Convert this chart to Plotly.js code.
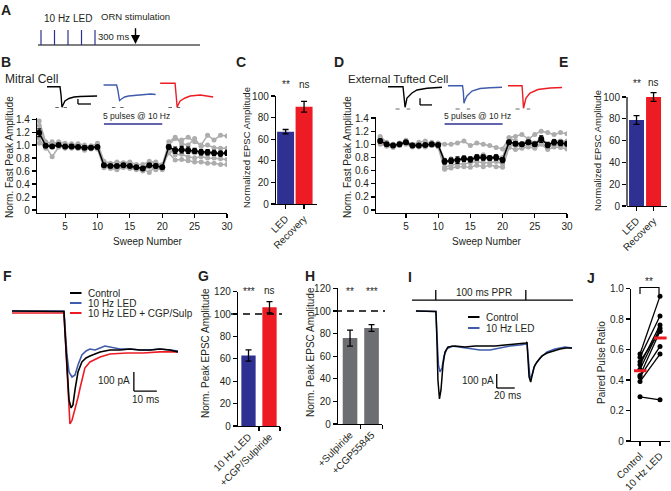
<!DOCTYPE html>
<html><head><meta charset="utf-8">
<script src="https://cdn.plot.ly/plotly-3.0.1.min.js"></script>
<style>html,body{margin:0;padding:0;background:#fff;}#chart{width:671px;height:491px;}</style>
</head><body><div id="chart"></div>
<script>
// ================= DATA =================
// A: protocol (ms)
const ledPulseTimes = [0, 100, 200, 300, 400];
const ornStimTime = 700;

// B: mitral cells, normalized fast peak amplitude per sweep
const sweeps = [1,2,3,4,5,6,7,8,9,10,11,12,13,14,15,16,17,18,19,20,21,22,23,24,25,26,27,28,29,30];
const mitralMean = [1.19,0.99,0.98,1.0,0.98,0.98,0.97,0.96,0.96,0.97,0.69,0.68,0.68,0.69,0.68,0.66,0.64,0.69,0.68,0.66,0.97,0.92,0.93,0.92,0.91,0.89,0.89,0.88,0.87,0.88];
const mitralSEM  = [0.06,0.02,0.03,0.02,0.02,0.02,0.02,0.02,0.02,0.02,0.02,0.02,0.02,0.02,0.02,0.02,0.02,0.02,0.03,0.02,0.03,0.05,0.05,0.05,0.04,0.04,0.04,0.04,0.04,0.04];
const mitralCell1 = [1.37,1.05,1.02,1.05,1.03,1.0,1.02,1.0,0.98,1.03,0.75,0.72,0.74,0.73,0.74,0.7,0.7,0.75,0.72,0.7,1.0,1.1,1.08,1.12,1.05,1.0,1.15,1.08,1.15,1.14];
const mitralCell2 = [1.3,1.0,0.98,1.02,0.96,1.02,0.98,0.98,0.99,0.98,0.7,0.7,0.68,0.72,0.7,0.66,0.65,0.72,0.74,0.65,1.05,1.12,1.02,1.0,1.1,0.98,1.0,0.96,0.95,0.95];
const mitralCell3 = [1.2,0.98,0.82,0.97,1.0,0.95,0.95,0.95,0.94,0.96,0.67,0.66,0.7,0.66,0.65,0.64,0.6,0.68,0.62,0.64,0.95,0.9,0.92,0.9,0.88,0.88,0.86,0.88,0.86,0.88];
const mitralCell4 = [1.1,0.95,1.05,0.98,0.96,0.97,0.96,0.92,0.95,0.94,0.65,0.66,0.64,0.66,0.64,0.62,0.62,0.66,0.66,0.62,0.93,0.85,0.86,0.82,0.8,0.82,0.8,0.8,0.79,0.78];
const mitralCell5 = [1.03,0.98,1.0,1.0,0.95,0.97,0.95,0.96,0.95,0.95,0.68,0.64,0.62,0.66,0.65,0.66,0.63,0.58,0.67,0.68,0.88,0.77,0.78,0.76,0.74,0.74,0.72,0.72,0.7,0.7];
const ledSweeps = [11, 20];

// B inset traces (ms, pA)
const mitralCtrlT = [0,10,10.8,11.5,12.3,13.8,16.9,20.8,25.4,33.1,38.5];
const mitralCtrlI = [0,0,-332,-824,-732,-572,-472,-412,-392,-372,-372];
const mitralLedT  = [0,10,10.8,11.5,12.3,13.8,16.2,19.2,24.6,30,36.2,40];
const mitralLedI  = [68,68,-92,-372,-552,-492,-412,-372,-352,-332,-292,-312];
const mitralRecT  = [0,11.5,12.3,13.1,13.8,15.4,19.2,23.1,30.8,34.6,38.5,40.8];
const mitralRecI  = [136,136,-332,-824,-732,-572,-452,-372,-332,-372,-412,-412];

// C
const cCats = ['LED', 'Recovery'];
const cVals = [67, 90];
const cErr  = [2, 5];
const cSig  = ['**', 'ns'];

// D: external tufted cells
const etcMean = [1.05,1.0,0.98,1.0,1.03,0.98,0.98,0.99,1.0,0.99,0.74,0.75,0.76,0.78,0.77,0.8,0.8,0.79,0.8,0.76,1.03,1.01,1.0,1.03,1.0,1.08,0.99,1.03,1.02,1.01];
const etcSEM  = [0.03,0.02,0.02,0.02,0.02,0.02,0.02,0.02,0.02,0.02,0.04,0.04,0.05,0.04,0.04,0.04,0.04,0.03,0.04,0.04,0.03,0.03,0.03,0.03,0.03,0.05,0.04,0.04,0.04,0.03];
const etcCell1 = [1.08,1.02,1.0,0.98,1.05,1.0,1.03,1.05,1.0,1.02,1.0,1.0,1.02,1.05,0.98,1.02,1.0,0.98,0.95,0.93,1.1,1.12,1.15,1.08,1.15,1.2,1.18,1.15,1.18,1.16];
const etcCell2 = [1.1,1.0,0.97,1.02,1.04,0.98,0.97,1.0,1.03,1.0,0.72,0.78,0.76,0.8,0.78,0.82,0.84,0.8,0.82,0.8,1.1,1.05,1.0,1.08,1.02,1.1,1.0,1.05,1.05,1.05];
const etcCell3 = [1.02,0.98,1.0,1.0,1.0,0.96,0.98,0.96,0.98,0.97,0.65,0.68,0.7,0.7,0.72,0.74,0.72,0.72,0.74,0.7,0.98,0.98,0.96,1.0,0.96,1.02,0.95,1.0,0.98,0.97];
const etcCell4 = [1.0,0.97,0.95,0.98,1.02,0.97,0.96,0.97,0.98,0.96,0.62,0.64,0.66,0.66,0.65,0.68,0.66,0.68,0.66,0.65,0.95,0.92,0.94,0.96,0.94,1.0,0.92,0.96,0.95,0.93];
const etcCell5 = [1.12,1.03,0.99,1.0,1.06,0.99,1.0,1.0,1.02,1.01,0.76,0.72,0.75,0.78,0.76,0.8,0.78,0.78,0.8,0.74,1.05,1.0,0.98,1.04,0.98,1.1,0.98,1.02,1.0,1.0];

// D inset traces (ms, pA)
const etcCtrlT = [0,12.5,13.3,14.2,15,15.8,20,24.2,32.5,45];
const etcCtrlI = [12,12,-360,-812,-640,-440,-240,-120,-52,-12];
const etcLedT  = [0,12.1,12.8,13.3,14.2,15.8,20,26.7,35,45];
const etcLedI  = [52,52,-200,-652,-520,-360,-160,-60,-28,-12];
const etcRecT  = [0,11.7,12.25,12.9,13.75,15,18.3,25,35,45];
const etcRecI  = [52,52,-320,-852,-680,-440,-240,-100,-40,-20];

// E
const eCats = ['LED', 'Recovery'];
const eVals = [79, 100];
const eErr  = [4, 4];
const eSig  = ['**', 'ns'];

// F: EPSC traces (ms, pA)
const fCtrlT = [0,12.2,22.6,23.0,23.9,24.8,25.7,26.5,27.4,28.7,30.4,32.2,33.9,36.1,38.3,42.6,47,51.3,55.7,60,64.3,68.7,72.2];
const fCtrlI = [5,5,3,-95,-305,-463,-505,-489,-410,-316,-263,-242,-232,-221,-210,-200,-200,-195,-200,-200,-195,-200,-210];
const fLedT  = [0,22.6,23.0,23.9,24.8,26.1,27.4,28.7,30.4,32.2,33.9,36.1,38.3,40.4,42.6,47,51.3,55.7,60,64.3,68.7,72.2];
const fLedI  = [5,5,-68,-226,-316,-342,-331,-279,-226,-205,-195,-200,-189,-179,-184,-195,-195,-200,-200,-195,-200,-205];
const fDrugT = [0,22.6,23.0,23.9,24.8,25.2,26.1,27.0,28.7,29.6,31.7,33.9,38.3,42.6,50,57,64.3,72.2];
const fDrugI = [-5,-5,-95,-330,-520,-589,-570,-531,-450,-400,-295,-263,-237,-221,-216,-216,-210,-210];
const fNames = ['Control', '10 Hz LED', '10 Hz LED + CGP/Sulp'];

// G
const gCats = ['10 Hz LED', '+CGP/Sulpiride'];
const gVals = [63, 106];
const gErr  = [5, 5];
const gSig  = ['***', 'ns'];

// H
const hCats = ['+Sulpiride', '+CGP55845'];
const hVals = [76, 85];
const hErr  = [7, 3];
const hSig  = ['**', '***'];

// I: paired pulse traces (ms, pA)
const iStim = [22, 122];
const iCtrlT = [0,22.2,23.3,24.4,26.1,27.8,30,32.2,35.6,43.3,54.4,65.6,76.7,87.8,98.9,110,117.8,122.2,123.3,124.4,125.6,127.4,128.9,131.1,134.4,140,145.6,152.2,160,166.7,173.3];
const iCtrlI = [0,-4,-207,-493,-628,-564,-385,-293,-257,-250,-257,-250,-250,-250,-243,-236,-228,-228,-221,-350,-470,-507,-470,-400,-364,-321,-300,-286,-271,-264,-264];
const iLedT  = [0,22.2,23.3,25,26.7,28.9,31.1,34.4,40,48.9,60,71.1,82.2,93.3,104.4,115.6,122.2,123.3,124.4,126.7,128.9,132.2,137.8,145.6,154.4,165.6,173.3];
const iLedI  = [0,-4,-171,-385,-435,-407,-321,-271,-250,-257,-271,-278,-278,-264,-250,-243,-236,-228,-336,-485,-457,-385,-336,-293,-271,-257,-264];
const iNames = ['Control', '10 Hz LED'];

// J: paired pulse ratio
const jCats = ['Control', '10 Hz LED'];
const pprCtrl = [0.29,0.39,0.42,0.43,0.47,0.50,0.52,0.55,0.57];
const pprLed  = [0.27,0.57,0.62,0.72,0.74,0.76,0.72,0.82,0.95];
const pprMean = [0.46, 0.675];

// ================= STYLE / LAYOUT =================
const FONT = 'Liberation Sans, Arial, Helvetica, sans-serif';
const TXT = '#231f20';
const BLUE_BAR = '#2e3192', RED = '#ed1c24', BLUE_TR = '#3f5bab', GREY_PT = '#adadad', GREY_BAR = '#6d6e71';
const W = 671, H = 491;
const px = p => p / W, py = p => 1 - p / H;
const dX = (a, b) => [a / W, b / W];
const dY = (top, bottom) => [1 - bottom / H, 1 - top / H];

function axis(o) {
  return Object.assign({showgrid:false, zeroline:false, showline:true, linecolor:'#000', linewidth:1.2,
    ticks:'outside', ticklen:4, tickwidth:1.2, tickcolor:'#000',
    tickfont:{size:10, color:TXT, family:FONT}, fixedrange:true}, o);
}
function hid(o) { return Object.assign({visible:false, fixedrange:true, showgrid:false, zeroline:false}, o); }

const normTicks = [0,0.2,0.4,0.6,0.8,1.0,1.2,1.4];
const normText = ['0','0.2','0.4','0.6','0.8','1.0','1.2','1.4'];
const sweepTicks = [5,10,15,20,25,30];

const traces = [];
const shapes = [];
const annotations = [];
const F10 = {size:10, color:TXT, family:FONT};
const F95 = {size:9.5, color:TXT, family:FONT};

function ann(o) {
  annotations.push(Object.assign({showarrow:false, xanchor:'center', yanchor:'middle', font:F10}, o));
}
function txt(text, x, y, o) { ann(Object.assign({text, x, y, xref:'paper', yref:'paper'}, o)); }
function seg(xref, yref, x0, y0, x1, y1, color, width, dash) {
  shapes.push({type:'line', xref, yref, x0, y0, x1, y1, line:{color, width, dash: dash || 'solid'}});
}

// ---------- A ----------
traces.push({x:[-22.2, 1177.8], y:[0,0], xaxis:'x', yaxis:'y', mode:'lines', line:{color:'#000', width:1.2}, hoverinfo:'skip'});
{
  const xs = [], ys = [];
  ledPulseTimes.forEach(t => { xs.push(t, t, null); ys.push(0, 1, null); });
  traces.push({x:xs, y:ys, xaxis:'x', yaxis:'y', mode:'lines', line:{color:BLUE_BAR, width:1.2}, hoverinfo:'skip'});
}
annotations.push({x:ornStimTime, y:0.06, ax:ornStimTime, ay:1.22, xref:'x', yref:'y', axref:'x', ayref:'y',
  showarrow:true, arrowhead:2, arrowsize:1.3, arrowwidth:1.4, arrowcolor:'#000', text:''});
ann({text:'10 Hz LED', x:(ledPulseTimes[0]+ledPulseTimes[4])/2, y:py(18), xref:'x', yref:'paper'});
ann({text:'ORN stimulation', x:ornStimTime, y:py(17), xref:'x', yref:'paper', font:F95});
ann({text:'300 ms', x:(ledPulseTimes[4]+ornStimTime)/2 - 15, y:py(37), xref:'x', yref:'paper', font:F95});

// ---------- B / D scatter ----------
function sweepPanel(cells, mean, sem, xa, ya) {
  cells.forEach(c => traces.push({x:sweeps, y:c, xaxis:xa, yaxis:ya, mode:'lines+markers',
    line:{color:GREY_PT, width:1.5}, marker:{color:GREY_PT, size:5}, hoverinfo:'skip'}));
  traces.push({x:sweeps, y:mean, xaxis:xa, yaxis:ya, mode:'lines+markers',
    line:{color:'#000', width:1.5}, marker:{color:'#000', size:6},
    error_y:{type:'data', array:sem, color:'#000', thickness:1.1, width:2}, hoverinfo:'skip'});
}
sweepPanel([mitralCell1,mitralCell2,mitralCell3,mitralCell4,mitralCell5], mitralMean, mitralSEM, 'x2', 'y2');
sweepPanel([etcCell1,etcCell2,etcCell3,etcCell4,etcCell5], etcMean, etcSEM, 'x5', 'y5');

// inset traces
function insetTraces(list, gap, xa, ya, dashWins, dashY, scale) {
  const cols = ['#000', BLUE_TR, RED];
  list.forEach((tr, k) => {
    const off = k * gap;
    traces.push({x:tr[0].map(t => t + off), y:tr[1], xaxis:xa, yaxis:ya, mode:'lines',
      line:{color:cols[k], width:1.4}, hoverinfo:'skip'});
    dashWins.forEach(w => seg(xa, ya, w[0] + off, dashY, w[1] + off, dashY, '#666', 1));
  });
  seg(xa, ya, scale.t, scale.i, scale.t, scale.i - scale.pA, '#000', 1.3);
  seg(xa, ya, scale.t, scale.i - scale.pA, scale.t + scale.ms, scale.i - scale.pA, '#000', 1.3);
}
insetTraces([[mitralCtrlT,mitralCtrlI],[mitralLedT,mitralLedI],[mitralRecT,mitralRecI]], 43.5, 'x3', 'y3',
  [[6.4,9.1],[12.8,15.4]], -832, {t:23.8, i:-492, pA:200, ms:10});
insetTraces([[etcCtrlT,etcCtrlI],[etcLedT,etcLedI],[etcRecT,etcRecI]], 50, 'x6', 'y6',
  [[6.3,9.7],[15.6,18.5]], -880, {t:26.7, i:-452, pA:265, ms:10});

// LED bar under insets
['x2','x5'].forEach(xa => {
  seg(xa, 'paper', ledSweeps[0], py(124), ledSweeps[1], py(124), BLUE_BAR, 1.3);
  ann({text:'5 pulses @ 10 Hz', x:(ledSweeps[0]+ledSweeps[1])/2 + 0.6, y:py(116.5), xref:xa, yref:'paper',
    font:{size:8.5, color:TXT, family:FONT}});
});

// ---------- bar panels ----------
function barPanel(vals, err, colors, width, xa, ya) {
  traces.push({type:'bar', x:[0,1], y:vals, width:width, xaxis:xa, yaxis:ya,
    marker:{color:colors, line:{width:0}},
    error_y:{type:'data', array:err, color:'#000', thickness:1.3, width:3}, hoverinfo:'skip'});
}
barPanel(cVals, cErr, [BLUE_BAR, RED], 0.92, 'x4', 'y4');
barPanel(eVals, eErr, [BLUE_BAR, RED], 0.88, 'x7', 'y7');
barPanel(gVals, gErr, [BLUE_BAR, RED], 0.68, 'x9', 'y9');
barPanel(hVals, hErr, [GREY_BAR, GREY_BAR], 0.68, 'x10', 'y10');

function sig(labels, xa, yPx) {
  labels.forEach((s, k) => ann({text:s, x:k, y:py(yPx + (s === 'ns' ? 0 : 1)), xref:xa, yref:'paper'}));
}
sig(cSig, 'x4', 84);
sig(eSig, 'x7', 82);
sig(gSig, 'x9', 290);
sig(hSig, 'x10', 290);

// E axis line up to 100
shapes.push({type:'line', xref:'x7 domain', yref:'y7', x0:0, x1:0, y0:0, y1:100, line:{color:'#000', width:1.2}});
// dashed 100% lines
seg('paper', 'y9', px(231), 100, px(282), 100, '#000', 1.4, '7px,5px');
seg('paper', 'y10', px(335), 100, px(385), 100, '#000', 1.4, '7px,5px');

// ---------- F ----------
[[fLedT,fLedI,BLUE_TR],[fDrugT,fDrugI,RED],[fCtrlT,fCtrlI,'#000']].forEach(d =>
  traces.push({x:d[0], y:d[1], xaxis:'x8', yaxis:'y8', mode:'lines', line:{color:d[2], width:1.6}, hoverinfo:'skip'}));
seg('x8','y8', 53, -316, 53, -416, '#000', 1.3);
seg('x8','y8', 53, -416, 63, -416, '#000', 1.3);
ann({text:'100 pA', x:52.3, y:-362, xref:'x8', yref:'y8', xanchor:'right'});
ann({text:'10 ms', x:58, y:-460, xref:'x8', yref:'y8'});
[['#000',293],[BLUE_TR,303],[RED,313]].forEach((c, k) => {
  seg('paper','paper', px(70), py(c[1]), px(81.5), py(c[1]), c[0], 2);
  txt(fNames[k], px(86), py(c[1]), {xanchor:'left'});
});

// ---------- I ----------
traces.push({x:iLedT, y:iLedI, xaxis:'x11', yaxis:'y11', mode:'lines', line:{color:BLUE_TR, width:1.5}, hoverinfo:'skip'});
traces.push({x:iCtrlT, y:iCtrlI, xaxis:'x11', yaxis:'y11', mode:'lines', line:{color:'#000', width:1.5}, hoverinfo:'skip'});
seg('x11','y11', -4.4, 78, 174.4, 78, '#000', 1.3);
iStim.forEach(t => seg('x11','y11', t, 78, t, 150, '#000', 1.3));
ann({text:'100 ms PPR', x:(iStim[0]+iStim[1])/2 + 4, y:py(292), xref:'x11', yref:'paper'});
seg('x11','y11', 89.7, -450, 89.7, -550, '#000', 1.3);
seg('x11','y11', 89.7, -550, 109.7, -550, '#000', 1.3);
ann({text:'100 pA', x:89, y:-493, xref:'x11', yref:'y11', xanchor:'right'});
ann({text:'20 ms', x:102, y:-605, xref:'x11', yref:'y11'});
[['#000',317],[BLUE_TR,328]].forEach((c, k) => {
  seg('paper','paper', px(468), py(c[1]), px(479.5), py(c[1]), c[0], 2);
  txt(iNames[k], px(484), py(c[1]), {xanchor:'left'});
});

// ---------- J ----------
{
  const xs = [], ys = [];
  pprCtrl.forEach((v, k) => { xs.push(0, 1, null); ys.push(v, pprLed[k], null); });
  traces.push({x:xs, y:ys, xaxis:'x12', yaxis:'y12', mode:'lines+markers', line:{color:'#000', width:1.3},
    marker:{color:'#000', size:5}, cliponaxis:false, hoverinfo:'skip'});
  pprMean.forEach((m, k) => traces.push({x:[k-0.3, k+0.33], y:[m, m], xaxis:'x12', yaxis:'y12', mode:'lines',
    line:{color:RED, width:3}, hoverinfo:'skip'}));
}
shapes.push({type:'path', xref:'x12', yref:'paper', line:{color:'#000', width:1.2},
  path:`M 0,${py(294)} L 0,${py(287.5)} L 0.95,${py(287.5)} L 0.95,${py(294)}`});
ann({text:'**', x:0.47, y:py(281), xref:'x12', yref:'paper'});

// ---------- titles / labels ----------
const letters = [['A',6,10],['B',6,62],['C',241,62],['D',339,62],['E',563,62],['F',7,276],['G',203,276],['H',310,276],['I',410,277],['J',591,278]];
letters.forEach(l => txt('<b>' + l[0] + '</b>', px(l[1]), py(l[2]), {font:{size:14, color:TXT, family:FONT}}));
txt('Mitral Cell', px(3), py(79), {xanchor:'left', font:{size:12, color:TXT, family:FONT}});
txt('External Tufted Cell', px(346), py(79), {xanchor:'left', font:{size:11.5, color:TXT, family:FONT}});
txt('Sweep Number', px(147.5), py(241));
txt('Sweep Number', px(487), py(241));
const yt = (t, x, y, s) => txt(t, px(x), py(y), {textangle:-90, font:{size:s || 10, color:TXT, family:FONT}});
yt('Norm. Fast Peak Amplitude', 9, 157);
yt('Norm. Fast Peak Amplitude', 347, 157);
yt('Normalized EPSC Amplitude', 246, 148, 9.5);
yt('Normalized EPSC Amplitude', 597, 151, 9.5);
yt('Norm. Peak EPSC Amplitude', 205, 353);
yt('Norm. Peak EPSC Amplitude', 310, 352);
yt('Paired Pulse Ratio', 601, 363);

const layout = {
  width: W, height: H, margin:{l:0, r:0, t:0, b:0}, paper_bgcolor:'#fff', plot_bgcolor:'rgba(0,0,0,0)',
  showlegend:false, font:{family:FONT, color:TXT, size:10},
  xaxis: hid({domain:dX(38,200), range:[-22.2,1177.8], anchor:'y'}),
  yaxis: hid({domain:dY(27,48), range:[-0.2,1.2], anchor:'x'}),
  xaxis2: axis({domain:dX(37,227), range:[0.66,30], tickvals:sweepTicks, anchor:'y2'}),
  yaxis2: axis({domain:dY(117.8,213), range:[-0.045,1.42], tickvals:normTicks, ticktext:normText, anchor:'x2'}),
  xaxis3: hid({domain:dX(45,215), range:[-1.54,129.2], anchor:'y3'}),
  yaxis3: hid({domain:dY(80,112), range:[-1012,268], anchor:'x3'}),
  xaxis4: axis({domain:dX(276,317), range:[-0.52,1.7], tickvals:[0,1], ticktext:cCats, tickangle:-45, anchor:'y4'}),
  yaxis4: axis({domain:dY(96,204), range:[0,100], tickvals:[0,20,40,60,80,100], anchor:'x4'}),
  xaxis5: axis({domain:dX(376,567), range:[0.35,30], tickvals:sweepTicks, anchor:'y5'}),
  yaxis5: axis({domain:dY(116.7,213), range:[-0.045,1.42], tickvals:normTicks, ticktext:normText, anchor:'x5'}),
  xaxis6: hid({domain:dX(385,565), range:[-2.5,147.5], anchor:'y6'}),
  yaxis6: hid({domain:dY(80,112), range:[-1000,280], anchor:'x6'}),
  xaxis7: axis({domain:dX(627,667), range:[-0.56,1.79], tickvals:[0,1], ticktext:eCats, tickangle:-45, anchor:'y7'}),
  yaxis7: axis({domain:dY(90.5,206), range:[0,106], tickvals:[0,20,40,60,80,100], showline:false, anchor:'x7'}),
  xaxis8: hid({domain:dX(12,178), range:[0,72.2], anchor:'y8'}),
  yaxis8: hid({domain:dY(304.4,429.8), range:[-620,40], anchor:'x8'}),
  xaxis9: axis({domain:dX(238,280), range:[-0.5,1.5], tickvals:[0,1], ticktext:gCats, tickangle:-45, ticklen:0,
    minor:{tickmode:'array', tickvals:[0.5,1.5], ticks:'outside', ticklen:4, tickwidth:1.2, tickcolor:'#000'}, anchor:'y9'}),
  yaxis9: axis({domain:dY(291.6,426), range:[0,120], tickvals:[0,20,40,60,80,100,120], anchor:'x9'}),
  xaxis10: axis({domain:dX(338,382.3), range:[-0.56,1.5], tickvals:[0,1], ticktext:hCats, tickangle:-45, ticklen:0,
    minor:{tickmode:'array', tickvals:[0.5,1.5], ticks:'outside', ticklen:4, tickwidth:1.2, tickcolor:'#000'}, anchor:'y10'}),
  yaxis10: axis({domain:dY(288.4,424), range:[0,120], tickvals:[0,20,40,60,80,100,120], anchor:'x10'}),
  xaxis11: hid({domain:dX(412,573), range:[-4.4,174.4], anchor:'y11'}),
  yaxis11: hid({domain:dY(289,403), range:[-657,157], anchor:'x11'}),
  xaxis12: axis({domain:dX(631,670), range:[-0.45,1.5], tickvals:[0,1], ticktext:jCats, tickangle:-45, anchor:'y12'}),
  yaxis12: axis({domain:dY(288.5,441), range:[0,1], tickvals:[0,0.2,0.4,0.6,0.8,1.0], ticktext:['0','0.2','0.4','0.6','0.8','1.0'], anchor:'x12'}),
  shapes, annotations
};

Plotly.newPlot('chart', traces, layout, {staticPlot:true, displayModeBar:false});
</script></body></html>
